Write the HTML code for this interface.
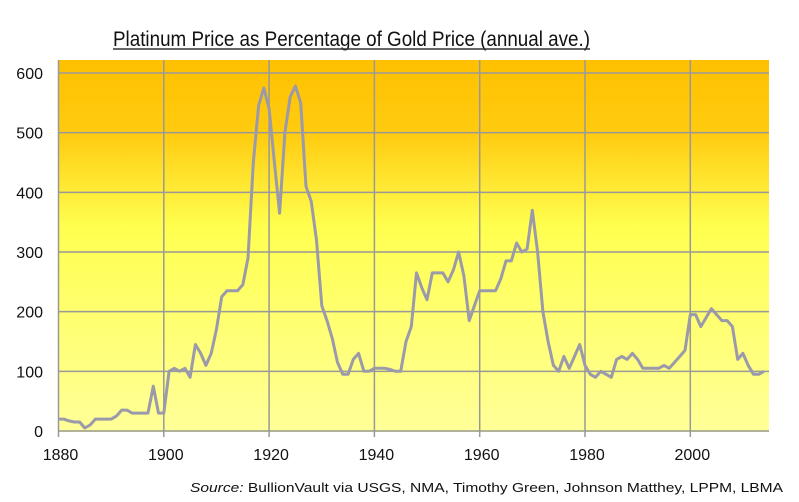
<!DOCTYPE html>
<html><head><meta charset="utf-8"><style>
html,body{margin:0;padding:0;background:#fff;}
svg{display:block;font-family:"Liberation Sans",sans-serif;}
</style></head><body>
<svg id="chart" width="799" height="502" viewBox="0 0 799 502">
<defs>
<linearGradient id="bg" x1="0" y1="0" x2="0" y2="1">
<stop offset="0" stop-color="#ffc000"/>
<stop offset="0.2" stop-color="#ffcc10"/>
<stop offset="0.45" stop-color="#ffff50"/>
<stop offset="1" stop-color="#ffff99"/>
</linearGradient>
</defs>
<text x="113" y="46" font-size="21" fill="#111" textLength="477" lengthAdjust="spacingAndGlyphs">Platinum  Price as Percentage of Gold Price (annual  ave.)</text>
<line x1="113" y1="49" x2="590" y2="49" stroke="#333" stroke-width="1.5"/>
<rect x="58" y="60" width="711" height="372" fill="url(#bg)"/>
<g id="grid"></g>
<g id="axes"></g>
<path id="line" fill="none" stroke="#9a9aaa" stroke-width="3" stroke-linejoin="round"/>
<text x="190" y="492" font-size="13" fill="#111" textLength="593" lengthAdjust="spacingAndGlyphs"><tspan font-style="italic">Source:</tspan> BullionVault via USGS, NMA, Timothy Green, Johnson Matthey, LPPM,  LBMA</text>
</svg>
<script>
const startYear = 1880;
const ratioValues = [20,20,17,15,15,5,10,20,20,20,20,25,35,35,30,30,30,30,75,30,
30,100,105,100,105,90,145,130,110,130,170,225,235,235,235,245,290,450,545,575,
540,450,365,500,560,578,550,410,385,320,210,185,155,115,95,95,120,130,100,100,
105,105,105,103,100,100,150,175,265,240,220,265,265,265,250,270,300,260,185,210,
235,235,235,235,255,285,285,315,300,305,370,300,200,150,110,100,125,105,125,145,
110,95,90,100,95,90,120,125,120,130,120,105,105,105,105,110,105,115,125,135,
195,195,175,190,205,195,185,185,175,120,130,110,95,95,100];
const yTicks = [0,100,200,300,400,500,600];
const xTicks = [1880,1900,1920,1940,1960,1980,2000];
const NS="http://www.w3.org/2000/svg";
const x = yr => 58.5 + (yr-1880)*5.265;
const y = v => 431 - v*0.5967;
const grid=document.getElementById('grid'), axes=document.getElementById('axes');
function mk(tag,attrs,parent){const e=document.createElementNS(NS,tag);for(const k in attrs)e.setAttribute(k,attrs[k]);parent.appendChild(e);return e;}
yTicks.forEach(v=>{
  const l=mk('line',{x1:58,x2:769,y1:y(v),y2:y(v),stroke:'#999','stroke-width':1.5},grid);
  
  
  const t=mk('text',{x:43,y:y(v)+6,'font-size':16,'text-anchor':'end',fill:'#111'},axes);
  t.textContent=v;
  
  
});
xTicks.forEach(yr=>{
  const l=mk('line',{x1:x(yr),x2:x(yr),y1:60,y2:437,stroke:'#999','stroke-width':1.5},grid);
  
  
  const t=mk('text',{x:x(yr)+2,y:460,'font-size':16,'text-anchor':'middle',fill:'#111'},axes);
  t.textContent=yr;
  
  
});
document.getElementById('line').setAttribute('d',ratioValues.map((v,i)=>(i?'L':'M')+x(startYear+i).toFixed(1)+','+y(v).toFixed(1)).join(''));
</script>
</body></html>
